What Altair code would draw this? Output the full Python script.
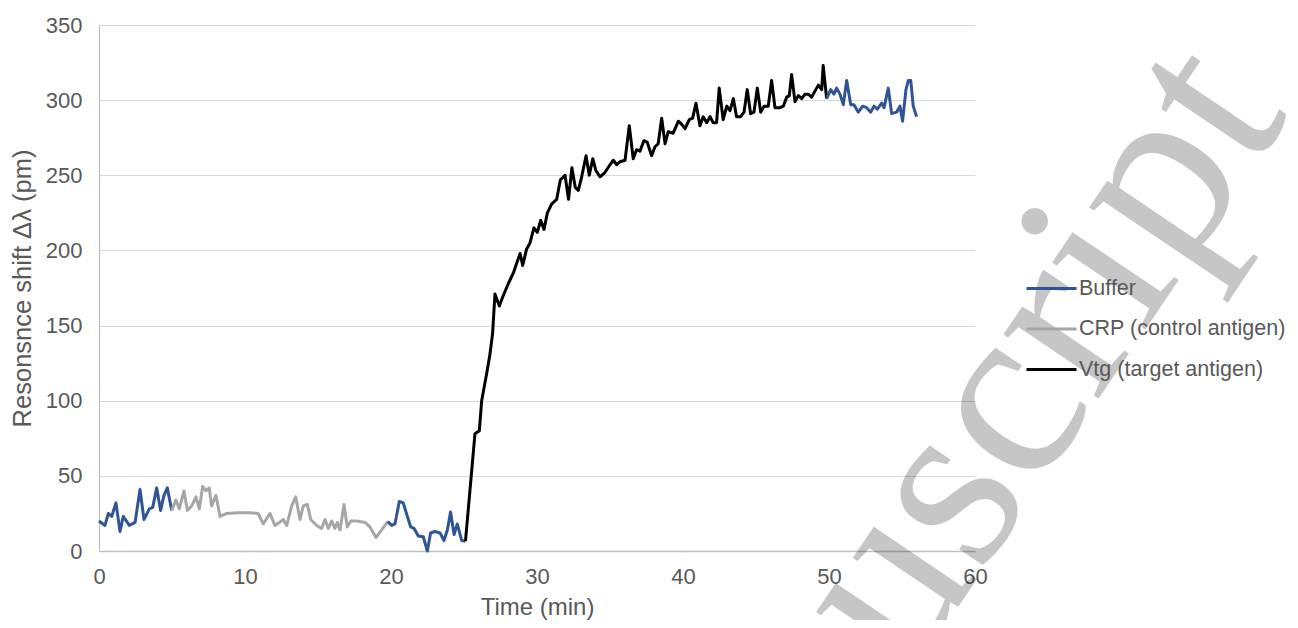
import altair as alt
import pandas as pd

series_names = ["Buffer", "CRP (control antigen)", "Vtg (target antigen)"]
series_colors = ["#2F5597", "#A6A6A6", "#000000"]

buffer1_t = [0.0, 0.41, 0.64, 0.87, 1.16, 1.44, 1.66, 2.08, 2.47, 2.81, 3.08, 3.45, 3.68, 3.95, 4.22, 4.45, 4.68, 4.98]
buffer1_v = [20, 17, 25, 23, 32, 13, 23, 17, 19, 41, 21, 28, 29, 42, 27, 37, 42, 27]

crp_t = [4.98, 5.27, 5.5, 5.82, 6.05, 6.35, 6.64, 6.87, 7.1, 7.33, 7.55, 7.71, 8.01, 8.29, 8.75, 9.5, 10.3,
         10.9, 11.25, 11.71, 12.05, 12.35, 12.62, 12.86, 13.2, 13.47, 13.77, 13.99, 14.27, 14.5, 14.91, 15.25,
         15.48, 15.71, 15.94, 16.16, 16.32, 16.51, 16.78, 17.0, 17.24, 17.64, 18.22, 18.56, 18.97, 19.36, 19.77]
crp_v = [27, 34, 28, 40, 27, 30, 36, 28, 43, 40, 42, 30, 37, 23, 25, 25.5, 25.5,
         25, 18, 25, 17, 19, 21, 17, 30, 36, 21, 30, 31, 21, 17, 15,
         21, 15, 20, 15, 19, 14, 31, 16, 20, 20, 19, 16, 9, 14, 19.5]

buffer2_t = [19.77, 20.05, 20.27, 20.57, 20.84, 21.12, 21.35, 21.58, 21.87, 22.21, 22.49, 22.71, 23.01, 23.36,
             23.63, 23.86, 24.08, 24.32, 24.54, 24.84, 25.1]
buffer2_v = [19.5, 17, 18, 33, 32, 23, 16, 15, 10, 9.5, 0, 12, 13, 12, 7, 14, 26, 11, 18, 7, 6.5]

vtg_t = [25.1, 25.75, 26.05, 26.21, 26.55, 26.78, 26.96, 27.12, 27.42, 27.69, 28.04, 28.38, 28.84, 29.02, 29.29,
         29.52, 29.79, 30.02, 30.25, 30.48, 30.71, 31.01, 31.35, 31.6, 31.92, 32.16, 32.39, 32.62, 32.83, 33.06,
         33.36, 33.58, 33.82, 34.04, 34.32, 34.66, 35.0, 35.23, 35.46, 35.68, 36.03, 36.32, 36.59, 36.82, 37.05,
         37.32, 37.55, 37.85, 38.08, 38.3, 38.54, 38.77, 38.99, 39.33, 39.68, 39.9, 40.14, 40.43, 40.66, 40.89,
         41.16, 41.38, 41.62, 41.85, 42.07, 42.3, 42.48, 42.75, 43.0, 43.22, 43.45, 43.67, 43.95, 44.18, 44.4,
         44.63, 44.86, 45.09, 45.32, 45.55, 45.84, 46.07, 46.3, 46.64, 46.87, 47.1, 47.28, 47.44, 47.67, 47.9,
         48.13, 48.36, 48.58, 48.81, 49.04, 49.27, 49.5, 49.6, 49.84]
vtg_v = [6.5, 78, 80, 100, 118, 131, 145, 171, 163, 170, 178, 185, 198, 190, 201,
         205, 215, 212, 220, 214, 225, 231, 234, 247, 250, 234, 255, 242, 240, 249,
         263, 250, 261, 253, 249, 252, 257, 260, 257, 259, 260, 283, 261, 267, 266,
         273, 272, 263, 269, 271, 288, 271, 279, 278, 286, 284, 281, 287, 288, 298,
         283, 289, 285, 289, 285, 285, 308, 287, 296, 293, 301, 289, 289, 292, 307,
         291, 292, 308, 292, 296, 296, 313, 295, 295, 296, 302, 303, 317, 299, 303,
         301, 304, 304, 302, 306, 310, 307, 323, 301]

buffer3_t = [49.84, 50.11, 50.34, 50.52, 50.75, 50.98, 51.21, 51.49, 51.71, 52.01, 52.31, 52.58, 52.86, 53.08,
             53.31, 53.61, 53.77, 54.06, 54.29, 54.63, 54.86, 55.04, 55.27, 55.43, 55.6, 55.77, 56.0]
buffer3_v = [301, 307, 304, 308, 304, 297, 313, 297, 297, 292, 296, 295, 292, 296,
             294, 298, 295, 308, 291, 292, 296, 286, 307, 313, 313, 296, 289]

segments = [
    ("b1", "Buffer", buffer1_t, buffer1_v),
    ("c1", "CRP (control antigen)", crp_t, crp_v),
    ("b2", "Buffer", buffer2_t, buffer2_v),
    ("v1", "Vtg (target antigen)", vtg_t, vtg_v),
    ("b3", "Buffer", buffer3_t, buffer3_v),
]
rows = []
for seg, name, ts, vs in segments:
    for t, v in zip(ts, vs):
        rows.append({"time": t, "shift": v, "series": name, "segment": seg})
df = pd.DataFrame(rows)

FONT = "Liberation Sans"
TXT = "#595959"

lines = alt.Chart(df).mark_line(strokeWidth=3, strokeJoin="round").encode(
    x=alt.X("time:Q", scale=alt.Scale(domain=[0, 60], nice=False),
            axis=alt.Axis(values=[0, 10, 20, 30, 40, 50, 60], title="Time (min)", grid=False,
                          ticks=False, tickSize=0, domainColor="#BFBFBF", domainWidth=1.5,
                          labelFontSize=22, labelColor=TXT, labelFont=FONT, labelPadding=15,
                          labelFlush=False,
                          titleFontSize=24, titleColor=TXT, titleFont=FONT, titleFontWeight="normal",
                          titleBaseline="middle", titleX=438, titleY=56)),
    y=alt.Y("shift:Q", scale=alt.Scale(domain=[0, 350], nice=False),
            axis=alt.Axis(values=[0, 50, 100, 150, 200, 250, 300, 350], title="Resonsnce shift Δλ (pm)",
                          grid=True, gridColor="#D9D9D9", gridWidth=1.2, ticks=False, tickSize=0,
                          domainColor="#BFBFBF", domainWidth=1.2,
                          labelFontSize=22, labelColor=TXT, labelFont=FONT, labelPadding=17,
                          titleFontSize=25.5, titleColor=TXT, titleFont=FONT, titleFontWeight="normal",
                          titleBaseline="middle", titleX=-77, titleY=263, titleAngle=270)),
    color=alt.Color("series:N", scale=alt.Scale(domain=series_names, range=series_colors),
                    legend=alt.Legend(title=None, orient="none", legendX=926, legendY=237,
                                      symbolType="stroke", symbolSize=2500, symbolStrokeWidth=3,
                                      labelFontSize=21.5, labelFont=FONT, labelColor=TXT,
                                      labelOffset=1, rowPadding=3.5, labelLimit=400)),
    detail="segment:N",
    order="time:Q",
)

wm = alt.Chart(pd.DataFrame({"w": ["Manuscript"]})).mark_text(
    angle=304, fontSize=250, font="Liberation Serif", align="right", baseline="alphabetic",
    color="#000000", opacity=0.22
).encode(text="w:N", x=alt.value(1191), y=alt.value(90))

chart = alt.layer(lines, wm).properties(
    width=876, height=526,
    autosize=alt.AutoSizeParams(type="none"),
    padding={"left": 91, "top": 17, "right": 314, "bottom": 69},
).configure_view(stroke=None)

chart.save("out.html", embed_options={"renderer": "svg", "actions": False})
